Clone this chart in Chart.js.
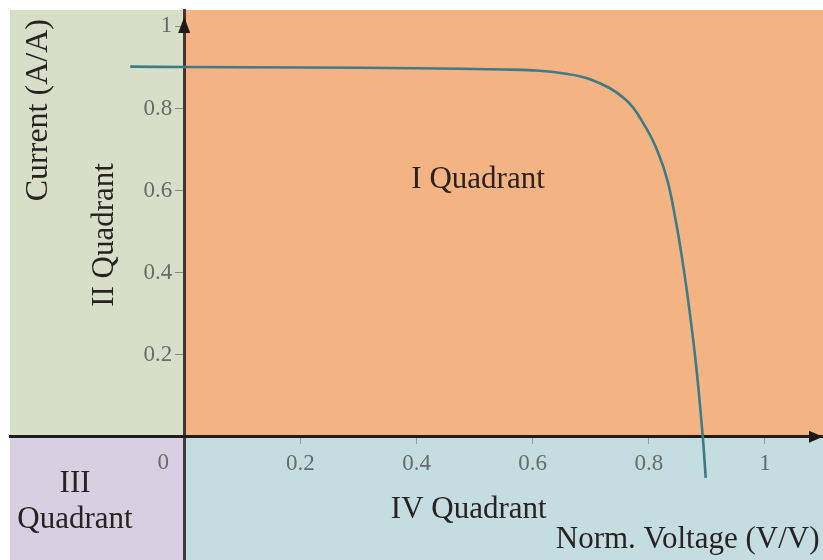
<!DOCTYPE html>
<html>
<head>
<meta charset="utf-8">
<script src="https://cdn.jsdelivr.net/npm/chart.js@4.4.1/dist/chart.umd.min.js"></script>
<style>
  html, body { margin: 0; padding: 0; background: #fff; }
  #wrap { width: 823px; height: 560px; }
</style>
</head>
<body>
<div id="wrap"><canvas id="iv" width="823" height="560"></canvas></div>
<script>
// normalized I-V curve of the cell (V/V, A/A)
const voltage = [-0.093, 0, 0.2, 0.4, 0.55, 0.6, 0.645, 0.701, 0.760, 0.794, 0.816, 0.833, 0.847, 0.855, 0.867, 0.881, 0.893, 0.898];
const current = [0.902, 0.901, 0.900, 0.898, 0.895, 0.893, 0.887, 0.870, 0.822, 0.756, 0.693, 0.620, 0.522, 0.456, 0.341, 0.180, 0, -0.100];

const xTicks = [0.2, 0.4, 0.6, 0.8, 1];
const yTicks = [0.2, 0.4, 0.6, 0.8, 1];

const serif = '"Liberation Serif", "Times New Roman", serif';
const tickGray = '#6a6a6a';

// quadrant fills: I, II, III, IV
const quadColors = { q1: '#f4b382', q2: '#d7dfc8', q3: '#d8d0e2', q4: '#c3dde1' };

// center-positioned axes should not steal room from the plot
const noPad = s => { s.paddingLeft = s.paddingRight = s.paddingTop = s.paddingBottom = 0; };

const quadrants = {
  id: 'quadrants',
  beforeDraw(chart) {
    const { ctx, chartArea: a, scales: { x, y } } = chart;
    const ox = x.getPixelForValue(0), oy = y.getPixelForValue(0);
    ctx.save();
    ctx.fillStyle = quadColors.q2; ctx.fillRect(a.left, a.top, ox - a.left, oy - a.top);
    ctx.fillStyle = quadColors.q1; ctx.fillRect(ox, a.top, a.right - ox, oy - a.top);
    ctx.fillStyle = quadColors.q3; ctx.fillRect(a.left, oy, ox - a.left, a.bottom - oy);
    ctx.fillStyle = quadColors.q4; ctx.fillRect(ox, oy, a.right - ox, a.bottom - oy);
    ctx.restore();
  },
  afterDraw(chart) {
    const { ctx, chartArea: a, scales: { x, y } } = chart;
    const px = v => x.getPixelForValue(v), py = v => y.getPixelForValue(v);
    const ox = px(0), oy = py(0);
    ctx.save();

    // arrow heads on both axes
    ctx.fillStyle = '#1e1a1a';
    ctx.beginPath();
    ctx.moveTo(ox, a.top + 7);
    ctx.lineTo(ox - 6, a.top + 23);
    ctx.lineTo(ox + 6, a.top + 23);
    ctx.closePath();
    ctx.fill();
    ctx.beginPath();
    ctx.moveTo(a.right, oy);
    ctx.lineTo(a.right - 14, oy - 6);
    ctx.lineTo(a.right - 14, oy + 6);
    ctx.closePath();
    ctx.fill();

    // current tick labels, left of the vertical axis
    ctx.fillStyle = tickGray;
    ctx.font = '23px ' + serif;
    ctx.textAlign = 'right';
    ctx.textBaseline = 'middle';
    y.ticks.forEach(t => ctx.fillText(String(t.value), ox - 12, py(t.value)));

    // origin label
    ctx.textAlign = 'center';
    ctx.fillText('0', ox - 21, oy + 26);

    // quadrant names and axis titles
    ctx.fillStyle = '#2a2222';
    ctx.font = '31px ' + serif;
    ctx.textBaseline = 'alphabetic';
    ctx.fillText('I Quadrant', px(0.506), py(0.606));
    ctx.fillText('III', px(-0.188), py(-0.135));
    ctx.fillText('Quadrant', px(-0.188), py(-0.222));
    ctx.fillText('IV Quadrant', px(0.49), py(-0.198));
    ctx.textAlign = 'right';
    ctx.fillText('Norm. Voltage (V/V)', px(1.094), py(-0.271));

    ctx.textAlign = 'center';
    ctx.save();
    ctx.translate(px(-0.123), py(0.492));
    ctx.rotate(-Math.PI / 2);
    ctx.fillText('II Quadrant', 0, 0);
    ctx.restore();
    ctx.save();
    ctx.font = '32px ' + serif;
    ctx.translate(px(-0.236), py(0.796));
    ctx.rotate(-Math.PI / 2);
    ctx.fillText('Current (A/A)', 0, 0);
    ctx.restore();

    ctx.restore();
  }
};

new Chart(document.getElementById('iv'), {
  type: 'scatter',
  data: {
    datasets: [{
      data: voltage.map((v, i) => ({ x: v, y: current[i] })),
      showLine: true,
      borderColor: '#3d7b86',
      borderWidth: 2.6,
      pointRadius: 0,
      tension: 0.4
    }]
  },
  options: {
    responsive: false,
    animation: false,
    layout: { padding: { left: 10, top: 10, right: 0, bottom: 0 } },
    plugins: { legend: { display: false }, tooltip: { enabled: false } },
    scales: {
      x: {
        type: 'linear',
        min: -0.3,
        max: 1.1,
        position: { y: 0 },
        afterBuildTicks: s => { s.ticks = xTicks.map(v => ({ value: v })); },
        afterFit: noPad,
        grid: { drawOnChartArea: false, drawTicks: true, tickLength: 6, color: '#9a9a9a' },
        border: { color: '#231c1c', width: 3 },
        ticks: { color: tickGray, padding: 7, font: { family: serif, size: 23 }, maxRotation: 0, callback: v => String(v) }
      },
      y: {
        type: 'linear',
        min: -0.3,
        max: 1.04,
        position: { x: 0 },
        afterBuildTicks: s => { s.ticks = yTicks.map(v => ({ value: v })); },
        afterFit: noPad,
        grid: { drawOnChartArea: false, drawTicks: true, tickLength: 8, color: '#8a8a8a' },
        border: { color: 'rgba(40,28,28,0.85)', width: 3 },
        ticks: { display: false }
      }
    }
  },
  plugins: [quadrants]
});
</script>
</body>
</html>
